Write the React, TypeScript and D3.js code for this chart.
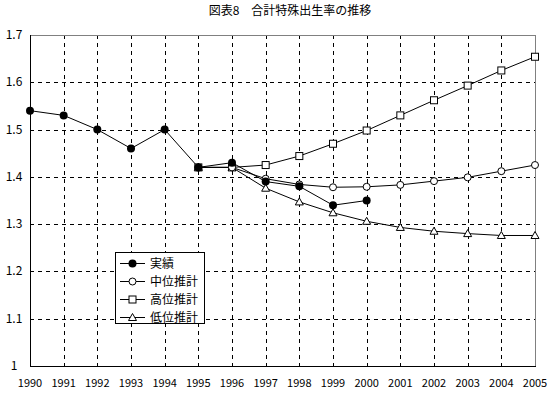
import React, { useEffect, useRef } from "react";
import * as d3 from "d3";

const years = d3.range(1990, 2006);
const actualYears = [1990, 1991, 1992, 1993, 1994, 1995, 1996, 1997, 1998, 1999, 2000];
const actual = [1.54, 1.53, 1.5, 1.46, 1.5, 1.42, 1.43, 1.39, 1.38, 1.34, 1.35];
const projYears = [1995, 1996, 1997, 1998, 1999, 2000, 2001, 2002, 2003, 2004, 2005];
const medium = [1.42, 1.42, 1.396, 1.384, 1.378, 1.379, 1.383, 1.391, 1.399, 1.412, 1.425];
const high = [1.42, 1.42, 1.425, 1.444, 1.47, 1.498, 1.53, 1.562, 1.593, 1.625, 1.654];
const low = [1.42, 1.42, 1.376, 1.347, 1.324, 1.306, 1.293, 1.285, 1.28, 1.276, 1.276];
const yTicks = [1, 1.1, 1.2, 1.3, 1.4, 1.5, 1.6, 1.7];
const legendLabels = ["実績", "中位推計", "高位推計", "低位推計"];

const FONT = "'Noto Sans CJK JP', sans-serif";

const App = () => {
  const ref = useRef<SVGSVGElement>(null);

  useEffect(() => {
    const svg = d3.select(ref.current);
    svg.selectAll("*").remove();

    const x = d3.scaleLinear().domain([1990, 2005]).range([30, 535]);
    const y = d3.scaleLinear().domain([1, 1.7]).range([366, 35]);

    // title
    svg.append("text")
      .attr("x", 290).attr("y", 15)
      .attr("text-anchor", "middle")
      .attr("font-family", FONT).attr("font-size", 12)
      .text("図表8　合計特殊出生率の推移");

    // grid
    const g = svg.append("g");
    g.selectAll(".vg").data(years.slice(1, -1)).enter().append("line")
      .attr("x1", d => Math.round(x(d)) + 0.5).attr("x2", d => Math.round(x(d)) + 0.5)
      .attr("y1", y(1.7)).attr("y2", y(1))
      .attr("stroke", "#000").attr("stroke-dasharray", "4,4");
    g.selectAll(".hg").data(yTicks.slice(1, -1)).enter().append("line")
      .attr("x1", x(1990)).attr("x2", x(2005))
      .attr("y1", d => Math.round(y(d)) + 0.5).attr("y2", d => Math.round(y(d)) + 0.5)
      .attr("stroke", "#000").attr("stroke-dasharray", "4,4");

    // frame
    g.append("line").attr("x1", x(1990)).attr("x2", x(2005) + 0.5)
      .attr("y1", y(1.7) + 0.5).attr("y2", y(1.7) + 0.5).attr("stroke", "#808080");
    g.append("line").attr("x1", x(2005) + 0.5).attr("x2", x(2005) + 0.5)
      .attr("y1", y(1.7)).attr("y2", y(1)).attr("stroke", "#808080");
    g.append("line").attr("x1", x(1990) + 0.5).attr("x2", x(1990) + 0.5)
      .attr("y1", y(1.7)).attr("y2", y(1)).attr("stroke", "#000");
    g.append("line").attr("x1", x(1990)).attr("x2", x(2005) + 1)
      .attr("y1", y(1) + 0.5).attr("y2", y(1) + 0.5).attr("stroke", "#000");

    // axis labels
    svg.selectAll(".yl").data(yTicks).enter().append("text")
      .attr("x", 14).attr("y", d => y(d) + 4)
      .attr("text-anchor", "middle")
      .attr("font-family", FONT).attr("font-size", 12)
      .text(d => (d === 1 ? "1" : d3.format(".1f")(d)));
    svg.selectAll(".xl").data(years).enter().append("text")
      .attr("x", d => x(d)).attr("y", 387)
      .attr("text-anchor", "middle")
      .attr("font-family", FONT).attr("font-size", 11)
      .text(d => d);

    const line = d3.line<[number, number]>().x(d => x(d[0])).y(d => y(d[1]));

    const drawMarker = (sel: any, type: string, cx: number, cy: number) => {
      if (type === "filled") {
        sel.append("circle").attr("cx", cx).attr("cy", cy).attr("r", 4).attr("fill", "#000");
      } else if (type === "circle") {
        sel.append("circle").attr("cx", cx).attr("cy", cy).attr("r", 3.5)
          .attr("fill", "#fff").attr("stroke", "#000");
      } else if (type === "square") {
        sel.append("rect").attr("x", cx - 3.5).attr("y", cy - 3.5).attr("width", 7).attr("height", 7)
          .attr("fill", "#fff").attr("stroke", "#000");
      } else {
        sel.append("path")
          .attr("d", `M${cx},${cy - 4}L${cx + 4},${cy + 3}L${cx - 4},${cy + 3}Z`)
          .attr("fill", "#fff").attr("stroke", "#000");
      }
    };

    const series = [
      { xs: projYears, vs: low, type: "triangle" },
      { xs: projYears, vs: high, type: "square" },
      { xs: projYears, vs: medium, type: "circle" },
      { xs: actualYears, vs: actual, type: "filled" },
    ];
    series.forEach(s => {
      const pts = s.xs.map((yr, i) => [yr, s.vs[i]] as [number, number]);
      svg.append("path").attr("d", line(pts)!).attr("fill", "none").attr("stroke", "#000");
    });
    series.forEach(s => {
      const mg = svg.append("g");
      s.xs.forEach((yr, i) => drawMarker(mg, s.type, x(yr), y(s.vs[i])));
    });

    // legend
    const lg = svg.append("g");
    lg.append("rect").attr("x", 115.5).attr("y", 252.5).attr("width", 89).attr("height", 71)
      .attr("fill", "#fff").attr("stroke", "#000");
    const types = ["filled", "circle", "square", "triangle"];
    legendLabels.forEach((lab, i) => {
      const cy = 263 + i * 18;
      lg.append("line").attr("x1", 120).attr("x2", 145).attr("y1", cy + 0.5).attr("y2", cy + 0.5)
        .attr("stroke", "#000");
      drawMarker(lg, types[i], 132.5, cy + 0.5);
      lg.append("text").attr("x", 150).attr("y", cy + 5)
        .attr("font-family", FONT).attr("font-size", 12)
        .text(lab);
    });
  }, []);

  return (
    <svg
      ref={ref}
      width={556}
      height={397}
      style={{ position: "absolute", left: 0, top: 0, background: "#fff" }}
    />
  );
};

export default App;
